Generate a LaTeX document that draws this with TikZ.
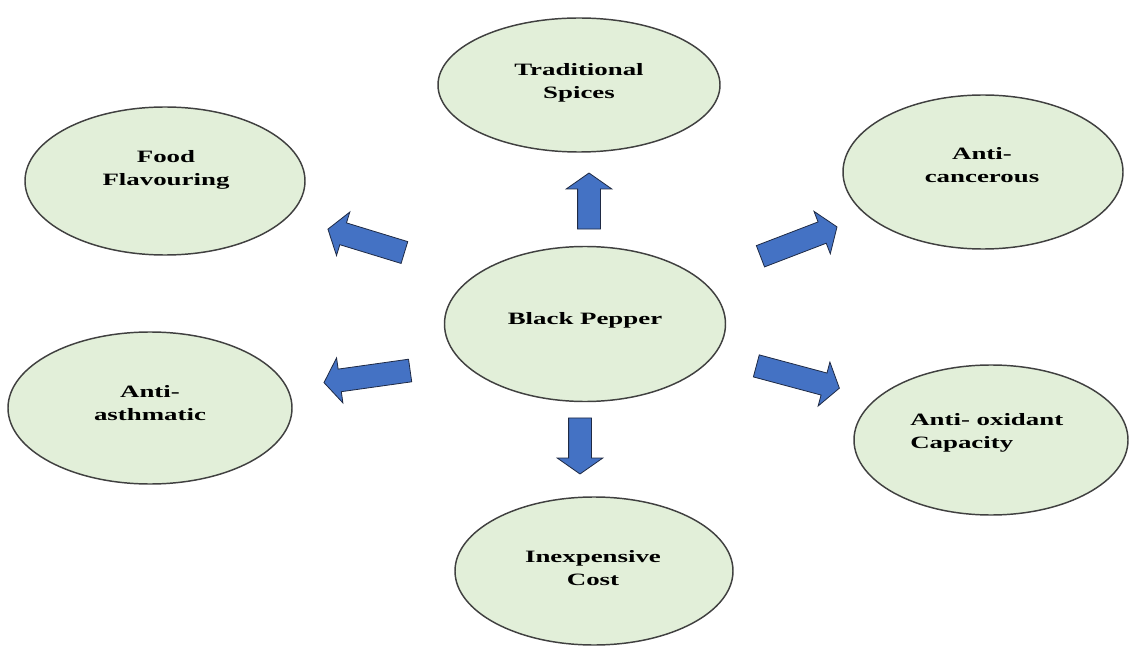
\documentclass[tikz,border=0pt]{standalone}
\usepackage{fontspec}
\setmainfont{Liberation Serif}[FakeStretch=1.55]
\usetikzlibrary{shapes.geometric,shapes.arrows}
\definecolor{ellfill}{HTML}{E2EFD9}
\definecolor{ellline}{HTML}{404040}
\definecolor{arrfill}{HTML}{4472C4}
\definecolor{arrline}{HTML}{1F2A44}
\tikzset{
  ell/.style 2 args={ellipse, draw=ellline, line width=1.1pt, fill=ellfill,
    inner sep=0pt, minimum width=#1*0.75pt, minimum height=#2*0.75pt},
  txt/.style={font=\bfseries\fontsize{13}{17}\selectfont, align=center, inner sep=0pt, text=black},
  blk/.style 2 args={single arrow, draw=arrline, line width=0.6pt, fill=arrfill,
    inner xsep=0pt, inner ysep=8.25pt, single arrow head extend=8.5pt,
    single arrow tip angle=110, minimum height=#1*0.75pt, rotate=#2}
}
\begin{document}
\begin{tikzpicture}[x=0.75pt,y=-0.75pt]
\useasboundingbox (0,0) rectangle (1129,649);
% ellipses
\node[ell={282}{134}] (trad) at (579,85) {};
\node[ell={280}{148}] (food) at (165,181) {};
\node[ell={280}{154}] (canc) at (983,172) {};
\node[ell={281}{155}] (bp)   at (585,324) {};
\node[ell={284}{152}] (asth) at (150,408) {};
\node[ell={274}{150}] (oxid) at (991,440) {};
\node[ell={278}{148}] (inex) at (594,571) {};
% texts
\node[txt] (tradT) at (579,83) {Traditional\\Spices};
\node[txt] (foodT) at (166,170) {Food\\Flavouring};
\node[txt] (cancT) at (982,165) {Anti-\\cancerous};
\node[txt] (bpT)   at (585,320) {Black Pepper};
\node[txt] (asthT) at (150,403) {Anti-\\asthmatic};
\node[txt, align=left, anchor=west] (oxidT) at (910,433) {Anti- oxidant\\Capacity};
\node[txt] (inexT) at (593,568) {Inexpensive\\Cost};
% block arrows
\node[blk={56}{90}]   (aUp)   at (589,205) {};
\node[blk={80}{163}]  (aFood) at (370,242) {};
\node[blk={82}{21}]   (aCanc) at (795,243) {};
\node[blk={87}{188}]  (aAsth) at (371,376) {};
\node[blk={86}{-15}]  (aOxid) at (794,376) {};
\node[blk={56}{-90}]  (aDown) at (580,442) {};
\end{tikzpicture}
\end{document}
